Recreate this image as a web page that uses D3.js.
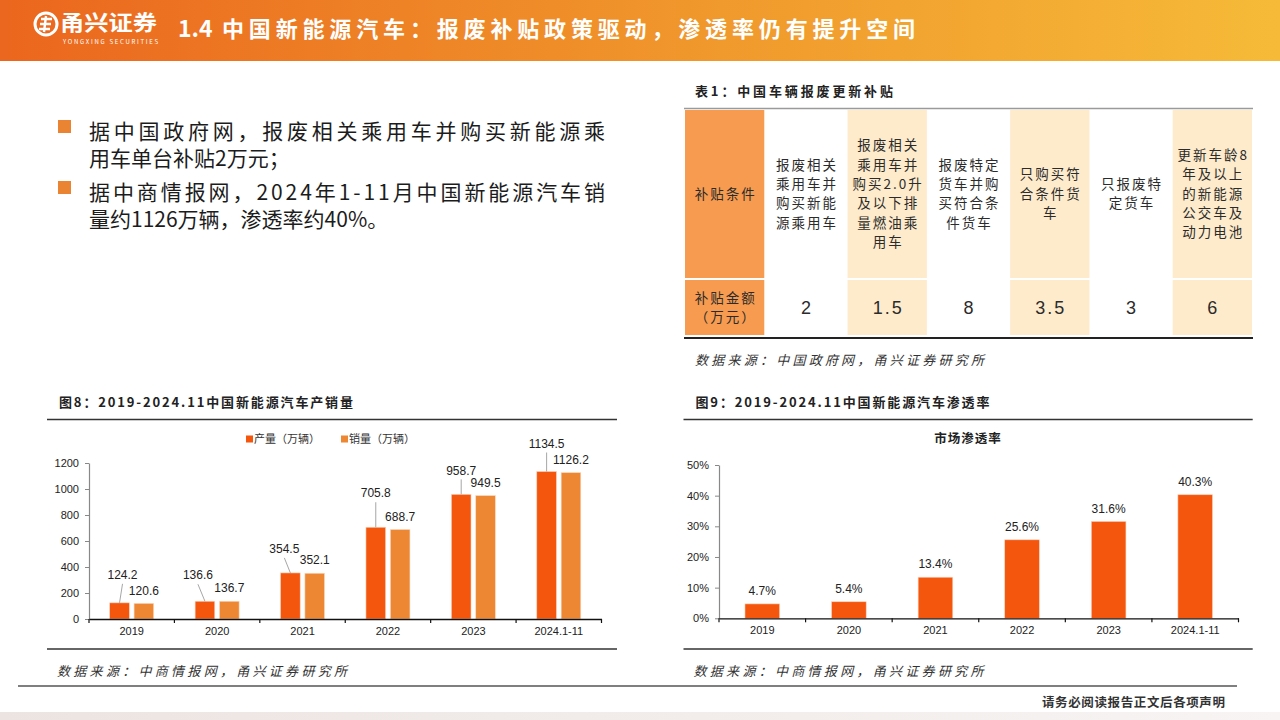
<!DOCTYPE html>
<html>
<head>
<meta charset="utf-8">
<script src="https://cdn.jsdelivr.net/npm/d3@7/dist/d3.min.js"></script>
<style>
  body { margin:0; background:#fff; }
  svg text { font-family: "Noto Sans CJK SC", "Noto Sans", sans-serif; }
  .num { font-family: "Liberation Sans", Arial, sans-serif !important; }
</style>
</head>
<body>
<svg id="page" width="1280" height="720"></svg>
<script>
// ---- data ----
var years = ["2019", "2020", "2021", "2022", "2023", "2024.1-11"]
var production = [124.2, 136.6, 354.5, 705.8, 958.7, 1134.5]
var sales = [120.6, 136.7, 352.1, 688.7, 949.5, 1126.2]
var penetration = [4.7, 5.4, 13.4, 25.6, 31.6, 40.3]
var volumeTicks = [0, 200, 400, 600, 800, 1000, 1200]
var rateTicks = [0, 10, 20, 30, 40, 50]
var seriesNames = ["产量（万辆）", "销量（万辆）"]

var subsidyHeads = [["补贴条件"], ["补贴金额", "（万元）"]]
var subsidyConditions = [
  ["报废相关", "乘用车并", "购买新能", "源乘用车"],
  ["报废相关", "乘用车并", "购买2.0升", "及以下排", "量燃油乘", "用车"],
  ["报废特定", "货车并购", "买符合条", "件货车"],
  ["只购买符", "合条件货", "车"],
  ["只报废特", "定货车"],
  ["更新车龄8", "年及以上", "的新能源", "公交车及", "动力电池"]
]
var subsidyAmounts = ["2", "1.5", "8", "3.5", "3", "6"]

var bulletLines = [
  ["据中国政府网，报废相关乘用车并购买新能源乘", "用车单台补贴2万元；"],
  ["据中商情报网，2024年1-11月中国新能源汽车销", "量约1126万辆，渗透率约40%。"]
]

var sectionNo = "1.4"
var pageTitle = "中国新能源汽车：报废补贴政策驱动，渗透率仍有提升空间"

// hand placed label nudges for the production labels (like the source chart)
var prodLabelDx = [3, -7, -6, 0, 0, 0]
var prodLabelDy = [-28, -26, -24, -34, -24, -28]

var RED = "#F5560D", ORANGE = "#EE8734"

var svg = d3.select("#page")
var defs = svg.append("defs")

// ---- header ----
var hg = defs.append("linearGradient").attr("id", "hdr")
hg.append("stop").attr("offset", "0%").attr("stop-color", "#EB661E")
hg.append("stop").attr("offset", "55%").attr("stop-color", "#F0982C")
hg.append("stop").attr("offset", "100%").attr("stop-color", "#F6BA38")
svg.append("rect").attr("x", 0).attr("y", 0).attr("width", 1280).attr("height", 61)
   .attr("fill", "url(#hdr)")

// logo
var logo = svg.append("g").attr("transform", "translate(46,24)")
logo.append("circle").attr("r", 11).attr("fill", "none").attr("stroke", "#fff").attr("stroke-width", 3)
logo.append("path").attr("d", "M-5,-5 L6,-5 M-6,0 L5,0 M-7,5 L4,5 M0,-8 L-2,8")
    .attr("stroke", "#fff").attr("stroke-width", 2.4).attr("fill", "none")
svg.append("text").attr("x", 60).attr("y", 30).text("甬兴证券")
   .attr("fill", "#fff").attr("font-size", 21).attr("font-weight", 700)
   .attr("textLength", 97).attr("lengthAdjust", "spacingAndGlyphs")
svg.append("text").attr("x", 63).attr("y", 44).text("YONGXING SECURITIES")
   .attr("fill", "#fff").attr("font-size", 6).attr("textLength", 95)
svg.append("text").attr("x", 178).attr("y", 37).text(sectionNo)
   .attr("fill", "#fff").attr("font-size", 23).attr("font-weight", 700)
   .attr("font-family", "Liberation Serif, serif")
svg.append("text").attr("x", 222).attr("y", 37).text(pageTitle)
   .attr("fill", "#fff").attr("font-size", 22).attr("font-weight", 700)
   .attr("textLength", 693)

// ---- bullets ----
bulletLines.forEach(function(lines, i) {
  var top = 120 + i * 61
  svg.append("rect").attr("x", 58).attr("y", top).attr("width", 13).attr("height", 13)
     .attr("fill", "#EA8433")
  var para = svg.append("text").attr("font-size", 21).attr("fill", "#1c1c1c")
  lines.forEach(function(t, j) {
    var ts = para.append("tspan").attr("x", 89).attr("y", top + 19 + j * 27).text(t)
    if (j == 0) ts.attr("textLength", 516)
  })
})

// ---- table ----
svg.append("text").attr("x", 695).attr("y", 96).text("表1：中国车辆报废更新补贴")
   .attr("font-size", 13).attr("font-weight", 700).attr("fill", "#222")
   .attr("textLength", 198)

var cols = d3.scaleBand().domain(d3.range(7)).range([684, 1253])
var row1 = [110, 278], row2 = [280, 335]
svg.append("line").attr("x1", 684).attr("x2", 1253).attr("y1", 108.5).attr("y2", 108.5)
   .attr("stroke", "#9a9a9a").attr("stroke-width", 1.5)

function cellFill(c) { return c == 0 ? "#F69B4F" : (c % 2 == 0 ? "#FEEBCC" : "#ffffff") }

d3.range(7).forEach(function(c) {
  ;[row1, row2].forEach(function(r) {
    svg.append("rect").attr("x", cols(c) + 1).attr("y", r[0])
       .attr("width", cols.bandwidth() - 2).attr("height", r[1] - r[0])
       .attr("fill", cellFill(c))
  })
})

function multiLine(lines, cx, cy, size, spacing, lh) {
  var g = svg.append("text").attr("text-anchor", "middle").attr("font-size", size)
     .attr("fill", "#2b2b2b").attr("letter-spacing", spacing)
  lines.forEach(function(t, i) {
    g.append("tspan").attr("x", cx + spacing / 2)
     .attr("y", cy + (i - (lines.length - 1) / 2) * lh).attr("dy", "0.35em").text(t)
  })
}
var mid1 = (row1[0] + row1[1]) / 2, mid2 = (row2[0] + row2[1]) / 2
multiLine(subsidyHeads[0], cols(0) + cols.bandwidth() / 2, mid1, 13.5, 2, 19.3)
multiLine(subsidyHeads[1], cols(0) + cols.bandwidth() / 2, mid2, 13.5, 2, 19.3)
subsidyConditions.forEach(function(lines, i) {
  multiLine(lines, cols(i + 1) + cols.bandwidth() / 2, mid1, 13.5, 2, 19.3)
})
subsidyAmounts.forEach(function(a, i) {
  svg.append("text").attr("x", cols(i + 1) + cols.bandwidth() / 2 + 1).attr("y", mid2)
     .attr("dy", "0.35em").attr("text-anchor", "middle").attr("class", "num")
     .attr("font-size", 18).attr("letter-spacing", 2).attr("fill", "#2b2b2b").text(a)
})
svg.append("line").attr("x1", 684).attr("x2", 1253).attr("y1", 338).attr("y2", 338)
   .attr("stroke", "#222").attr("stroke-width", 2)
svg.append("text").attr("x", 695).attr("y", 365).text("数据来源：中国政府网，甬兴证券研究所")
   .attr("font-size", 13).attr("font-style", "italic").attr("fill", "#333")
   .attr("textLength", 289)

// ---- chart frame helper ----
function frame(x0, x1, title, source) {
  svg.append("text").attr("x", x0 + 12).attr("y", 407).text(title)
     .attr("font-size", 13).attr("font-weight", 700).attr("fill", "#222")
     .attr("textLength", 294)
  svg.append("line").attr("x1", x0).attr("x2", x1).attr("y1", 419.5).attr("y2", 419.5)
     .attr("stroke", "#333").attr("stroke-width", 1.5)
  svg.append("line").attr("x1", x0).attr("x2", x1).attr("y1", 649).attr("y2", 649)
     .attr("stroke", "#333").attr("stroke-width", 1.5)
  svg.append("text").attr("x", x0 + 10).attr("y", 676).text(source)
     .attr("font-size", 13).attr("font-style", "italic").attr("fill", "#333")
     .attr("textLength", 290)
}

function bottomAxis(x, y0) {
  var ax = svg.append("g").attr("transform", "translate(0," + y0 + ")")
     .call(d3.axisBottom(x).tickSize(0).tickPadding(8))
  ax.select(".domain").attr("stroke", "#111").attr("stroke-width", 1.3)
  ax.selectAll("text").attr("class", "num").attr("font-size", 11).attr("fill", "#222")
  // separators at band boundaries
  var edges = x.domain().map(function(d) { return x(d) }).concat([x.range()[1]])
  ax.selectAll(".edge").data(edges).enter().append("line")
    .attr("x1", function(d) { return d }).attr("x2", function(d) { return d })
    .attr("y1", 0).attr("y2", 4).attr("stroke", "#111").attr("stroke-width", 1.2)
}

function leftAxis(y, x0, ticks, fmt) {
  var ax = svg.append("g").attr("transform", "translate(" + x0 + ",0)")
     .call(d3.axisLeft(y).tickValues(ticks).tickSize(4).tickSizeOuter(0).tickPadding(6).tickFormat(fmt))
  ax.select(".domain").attr("stroke", "#888").attr("stroke-width", 1.2)
  ax.selectAll(".tick line").attr("stroke", "#888")
  ax.selectAll("text").attr("class", "num").attr("font-size", 11).attr("fill", "#222")
}

// ---- chart 8: production / sales ----
frame(47, 617, "图8：2019-2024.11中国新能源汽车产销量", "数据来源：中商情报网，甬兴证券研究所")

var xa = d3.scaleBand().domain(years).range([89, 601.5])
var ya = d3.scaleLinear().domain([0, 1200]).range([619, 463])
var bw = xa.bandwidth() * 0.23, gap = bw * 0.24

// legend
seriesNames.forEach(function(n, i) {
  var lx = [246, 341][i]
  svg.append("rect").attr("x", lx).attr("y", 435.5).attr("width", 7).attr("height", 7)
     .attr("fill", i == 0 ? RED : ORANGE)
  svg.append("text").attr("x", lx + 8).attr("y", 439).attr("dy", "0.35em").text(n)
     .attr("font-size", 11).attr("fill", "#333")
})

function prodX(d) { return xa(d) + xa.bandwidth() / 2 - gap / 2 - bw }
function salesX(d) { return xa(d) + xa.bandwidth() / 2 + gap / 2 }

svg.append("g").selectAll("rect").data(years).enter().append("rect")
   .attr("x", prodX).attr("width", bw)
   .attr("y", function(d, i) { return ya(production[i]) })
   .attr("height", function(d, i) { return ya(0) - ya(production[i]) })
   .attr("fill", RED).attr("stroke", "#FBD3BC").attr("stroke-width", 0.6)
svg.append("g").selectAll("rect").data(years).enter().append("rect")
   .attr("x", salesX).attr("width", bw)
   .attr("y", function(d, i) { return ya(sales[i]) })
   .attr("height", function(d, i) { return ya(0) - ya(sales[i]) })
   .attr("fill", ORANGE).attr("stroke", "#FBDCC4").attr("stroke-width", 0.6)

leftAxis(ya, 89, volumeTicks, d3.format("d"))
bottomAxis(xa, 619)

// labels + leader lines
years.forEach(function(d, i) {
  var cx = prodX(d) + bw / 2, top = ya(production[i])
  var lx = cx + prodLabelDx[i], ly = top + prodLabelDy[i]
  svg.append("line").attr("x1", cx).attr("y1", top).attr("x2", lx).attr("y2", ly + 9)
     .attr("stroke", "#9c9c9c").attr("stroke-width", 0.9)
  svg.append("text").attr("x", lx).attr("y", ly).attr("dy", "0.35em").attr("text-anchor", "middle")
     .attr("class", "num").attr("font-size", 12).attr("fill", "#222").text(production[i].toFixed(1))
  var sx = salesX(d) + bw / 2
  svg.append("text").attr("x", sx).attr("y", ya(sales[i]) - 13).attr("dy", "0.35em")
     .attr("text-anchor", "middle").attr("class", "num").attr("font-size", 12).attr("fill", "#222")
     .text(sales[i].toFixed(1))
})

// ---- chart 9: penetration ----
frame(683.5, 1252.7, "图9：2019-2024.11中国新能源汽车渗透率", "数据来源：中商情报网，甬兴证券研究所")
svg.append("text").attr("x", 968).attr("y", 439).attr("dy", "0.35em").attr("text-anchor", "middle")
   .text("市场渗透率").attr("font-size", 12.5).attr("font-weight", 700).attr("fill", "#222")
   .attr("letter-spacing", 1)

var xb = d3.scaleBand().domain(years).range([719, 1238.5])
var yb = d3.scaleLinear().domain([0, 50]).range([618.3, 465])
var rw = xb.bandwidth() * 0.4

svg.append("g").selectAll("rect").data(years).enter().append("rect")
   .attr("x", function(d) { return xb(d) + (xb.bandwidth() - rw) / 2 }).attr("width", rw)
   .attr("y", function(d, i) { return yb(penetration[i]) })
   .attr("height", function(d, i) { return yb(0) - yb(penetration[i]) })
   .attr("fill", RED).attr("stroke", "#FBD3BC").attr("stroke-width", 0.6)
svg.append("g").selectAll("text").data(years).enter().append("text")
   .attr("x", function(d) { return xb(d) + xb.bandwidth() / 2 })
   .attr("y", function(d, i) { return yb(penetration[i]) - 13 }).attr("dy", "0.35em")
   .attr("text-anchor", "middle").attr("class", "num").attr("font-size", 12).attr("fill", "#222")
   .text(function(d, i) { return penetration[i].toFixed(1) + "%" })

leftAxis(yb, 719, rateTicks, function(d) { return d + "%" })
bottomAxis(xb, 618.3)

// ---- footer ----
svg.append("line").attr("x1", 18).attr("x2", 1237).attr("y1", 686).attr("y2", 686)
   .attr("stroke", "#555").attr("stroke-width", 1.5)
svg.append("text").attr("x", 1225).attr("y", 703).attr("dy", "0.35em").attr("text-anchor", "end")
   .text("请务必阅读报告正文后各项声明").attr("font-size", 12.5).attr("font-weight", 700)
   .attr("fill", "#333").attr("textLength", 183)
var fg = defs.append("linearGradient").attr("id", "ftr")
fg.append("stop").attr("offset", "0%").attr("stop-color", "#ECE4E1")
fg.append("stop").attr("offset", "100%").attr("stop-color", "#F7F4F3")
svg.append("rect").attr("x", 0).attr("y", 712).attr("width", 1280).attr("height", 8)
   .attr("fill", "url(#ftr)")
</script>
</body>
</html>
